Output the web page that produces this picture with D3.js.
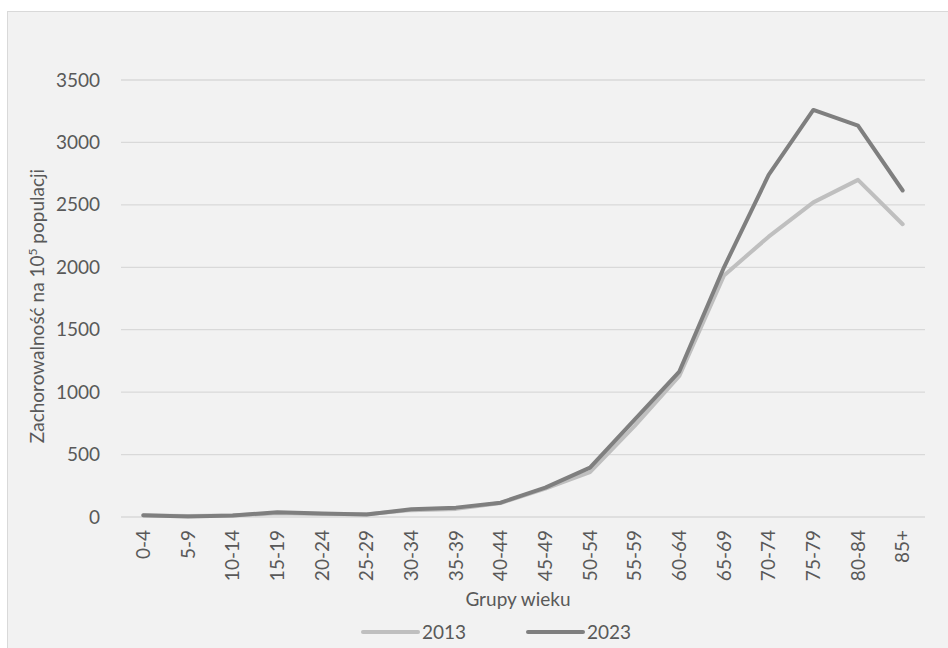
<!DOCTYPE html>
<html><head><meta charset="utf-8">
<script src="https://cdn.jsdelivr.net/npm/d3@7/dist/d3.min.js"></script>
<style>body{margin:0;background:#fff}svg{display:block}text{font-family:Lato,"Open Sans",sans-serif;fill:#595959}</style>
</head><body><svg id="c" width="948" height="648"></svg>
<script>
const categories=["0-4","5-9","10-14","15-19","20-24","25-29","30-34","35-39","40-44","45-49","50-54","55-59","60-64","65-69","70-74","75-79","80-84","85+"];
const values2013=[12,8,12,30,25,22,55,65,112,228,360,730,1130,1935,2245,2520,2700,2345];
const values2023=[15,5,12,38,28,20,62,75,115,235,395,780,1165,2000,2740,3260,3135,2615];
const yTicks=[0,500,1000,1500,2000,2500,3000,3500];
const seriesNames=["2013","2023"];
const seriesColors=["#bfbfbf","#7f7f7f"];

const FS="19px";
const svg=d3.select("#c");
svg.append("rect").attr("x",7.5).attr("y",11.5).attr("width",960).attr("height",660).attr("fill","#f2f2f2").attr("stroke","#d9d9d9");
const L=121,R=925,T=80,B=517;
const x=d3.scaleBand().domain(categories).range([L,R]);
const y=d3.scaleLinear().domain([0,3500]).range([B,T]);
const g=svg.append("g");
g.selectAll("line.grid").data(yTicks).join("line").attr("x1",L).attr("x2",R)
 .attr("y1",d=>y(d)).attr("y2",d=>y(d)).attr("stroke","#d9d9d9").attr("stroke-width",1.3);
const ya=svg.append("g").attr("transform",`translate(${L},0)`).call(d3.axisLeft(y).tickValues(yTicks).tickFormat(d3.format("d")).tickSize(0).tickPadding(21));
ya.select(".domain").remove();
ya.selectAll("text").style("font-size",FS).style("fill","#595959").attr("font-family","Lato");
const xa=svg.append("g").attr("transform",`translate(0,${B})`).call(d3.axisBottom(x).tickSize(0));
xa.select(".domain").remove();
xa.selectAll("text").style("font-size",FS).attr("font-family","Lato").style("fill","#595959")
 .attr("transform","rotate(-90)").attr("text-anchor","end").attr("x",-13).attr("y",0).attr("dy","0.35em");
const line=d3.line().x((d,i)=>x(categories[i])+x.bandwidth()/2).y(d=>y(d));
[values2013,values2023].forEach((v,k)=>{
 svg.append("path").datum(v).attr("d",line).attr("fill","none").attr("stroke",seriesColors[k])
  .attr("stroke-width",4).attr("stroke-linejoin","round").attr("stroke-linecap","round");
});
svg.append("text").attr("x",518).attr("y",606).attr("text-anchor","middle").style("font-size",FS).text("Grupy wieku");
const yt=svg.append("text").attr("transform","translate(44,306) rotate(-90)").attr("text-anchor","middle").style("font-size",FS);
yt.append("tspan").text("Zachorowalność na 10");
yt.append("tspan").attr("dy","-7").style("font-size","12px").text("5");
yt.append("tspan").attr("dy","7").text(" populacji");
const lx=[363,528];
seriesNames.forEach((n,k)=>{
 svg.append("line").attr("x1",lx[k]).attr("x2",lx[k]+55).attr("y1",632).attr("y2",632)
  .attr("stroke",seriesColors[k]).attr("stroke-width",4).attr("stroke-linecap","round");
 svg.append("text").attr("x",lx[k]+59).attr("y",639).style("font-size",FS).text(n);
});
</script></body></html>
